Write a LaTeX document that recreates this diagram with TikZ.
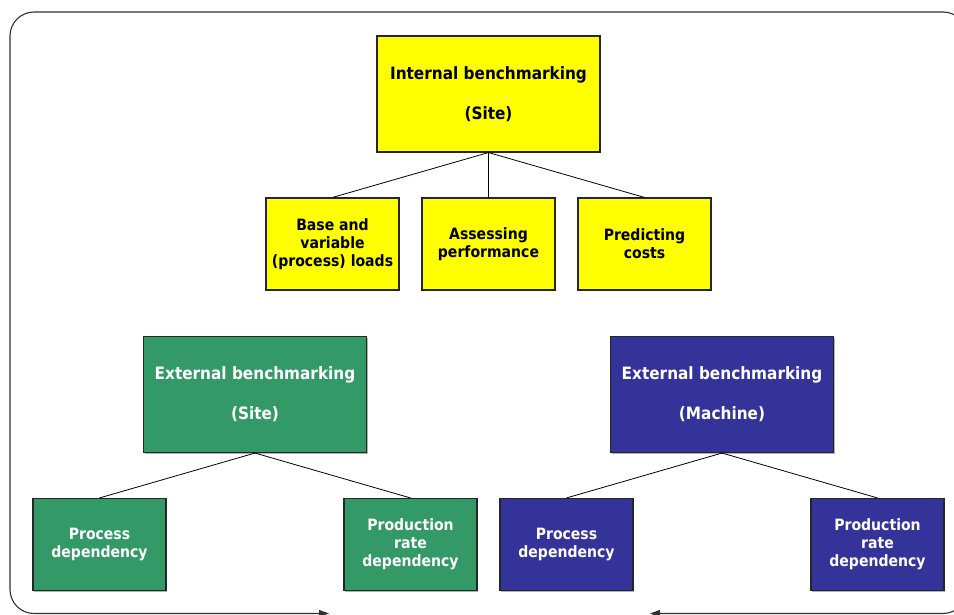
\documentclass[tikz,border=0pt]{standalone}
\usepackage{fontspec}
\setmainfont[FakeStretch=0.9]{DejaVu Sans}
\usetikzlibrary{arrows.meta,shadows}
\definecolor{ybox}{HTML}{FFFF00}
\definecolor{gbox}{HTML}{339966}
\definecolor{bbox}{HTML}{333399}
\definecolor{frame}{HTML}{303030}
\tikzset{
  box/.style={draw=black!85, line width=1.1pt, inner sep=0pt, align=center,
    drop shadow={shadow xshift=1.3pt, shadow yshift=-1.3pt, fill=black!30, opacity=1}},
  bigbox/.style={box, minimum width=223pt, minimum height=116pt,
    font=\fontsize{17}{20}\selectfont\bfseries},
  smallbox/.style={box, minimum width=133pt, minimum height=92pt,
    font=\fontsize{15.6}{18}\selectfont\bfseries},
  yel/.style={fill=ybox, text=black},
  grn/.style={fill=gbox, text=white},
  blu/.style={fill=bbox, text=white},
  link/.style={draw=black, line width=0.8pt},
  framepath/.style={draw=frame, line width=1.1pt, rounded corners=24pt,
    arrows={Triangle[length=10pt,width=7pt]-Triangle[length=10pt,width=7pt]}}
}
\begin{document}
\begin{tikzpicture}[x=1pt,y=-1pt]
\useasboundingbox (0,0) rectangle (954,615);
\clip (0,0) rectangle (954,615);
% frame
\coordinate (fa) at (329,613.5);
\coordinate (fb) at (650,613.5);
\draw[framepath] (fa) -- (10,613.5) -- (10,12) -- (967,12) -- (967,613.5) -- (fb);
% nodes
\node[bigbox,yel] (int) at (488.5,94) {Internal benchmarking\\[20pt](Site)};
\node[smallbox,yel] (base) at (332.5,244) {Base and\\variable\\(process) loads};
\node[smallbox,yel] (assess) at (488.5,244) {Assessing\\performance};
\node[smallbox,yel] (pred) at (644.5,244) {Predicting\\costs};
\node[bigbox,grn] (exts) at (255,394.5) {External benchmarking\\[20pt](Site)};
\node[bigbox,blu] (extm) at (722,394.5) {External benchmarking\\[20pt](Machine)};
\node[smallbox,grn] (gproc) at (99.5,544.5) {Process\\dependency};
\node[smallbox,grn] (grate) at (410.5,544.5) {Production\\rate\\dependency};
\node[smallbox,blu] (bproc) at (566.5,544.5) {Process\\dependency};
\node[smallbox,blu] (brate) at (877.5,544.5) {Production\\rate\\dependency};
% connectors
\draw[link] (int.south) -- (base.north);
\draw[link] (int.south) -- (assess.north);
\draw[link] (int.south) -- (pred.north);
\draw[link] (exts.south) -- (gproc.north);
\draw[link] (exts.south) -- (grate.north);
\draw[link] (extm.south) -- (bproc.north);
\draw[link] (extm.south) -- (brate.north);
\end{tikzpicture}
\end{document}
